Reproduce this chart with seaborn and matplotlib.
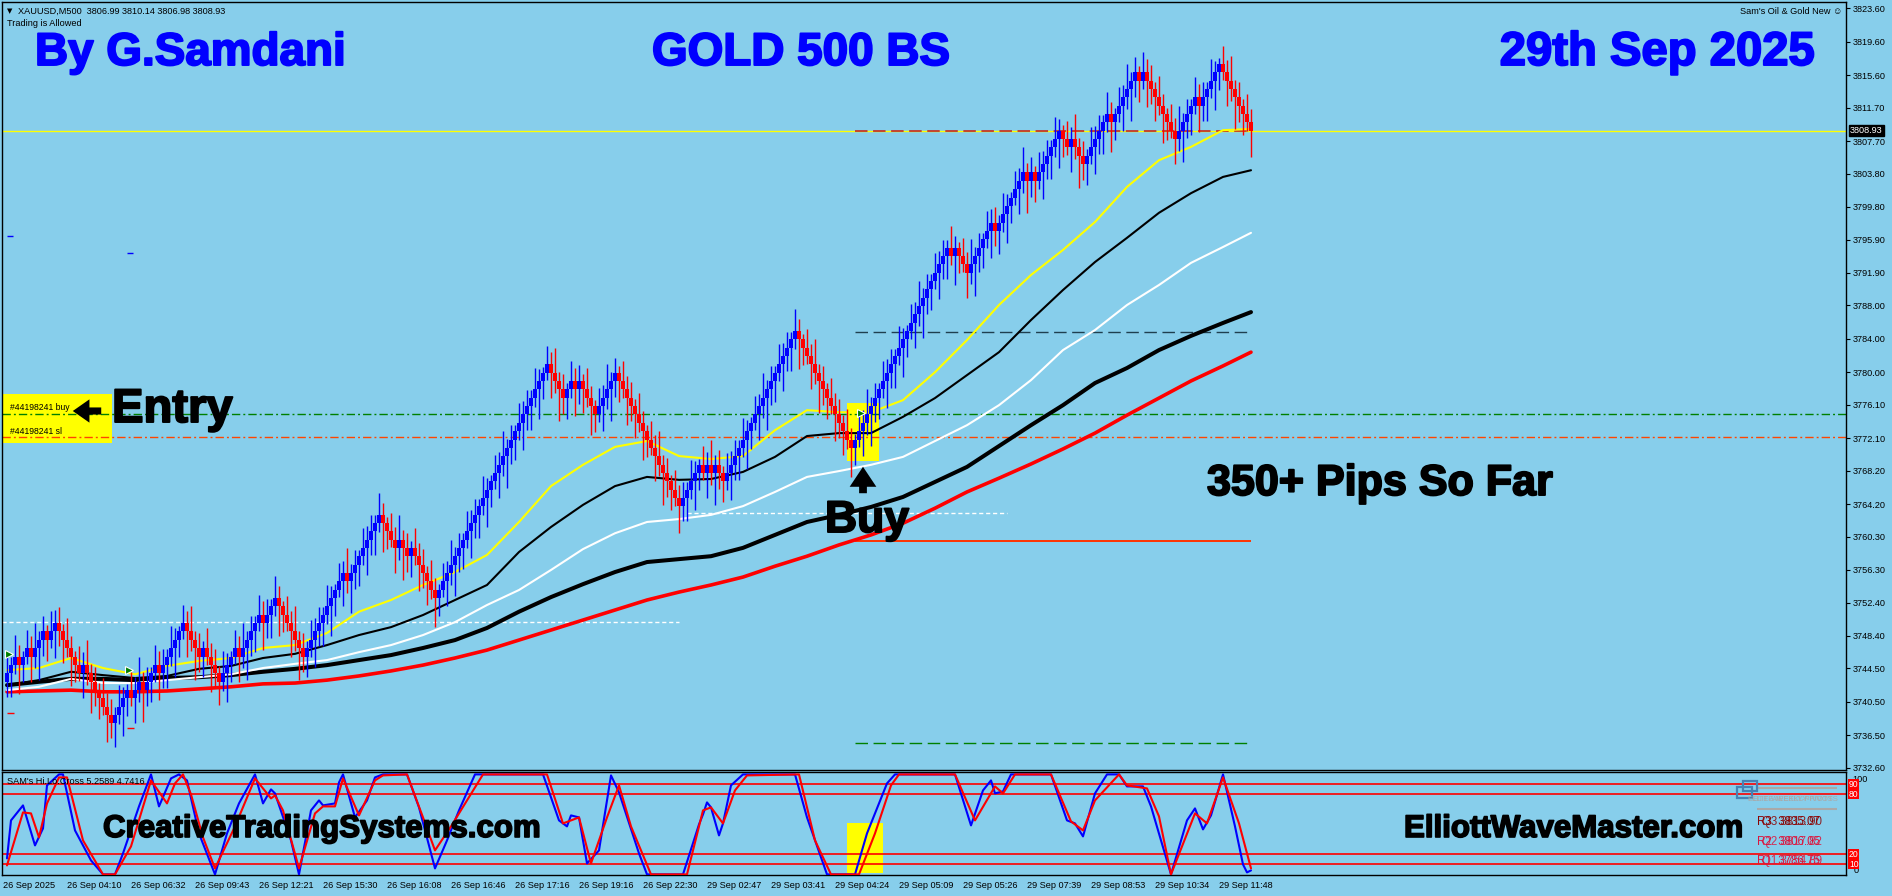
import numpy as np
import pandas as pd
import matplotlib
matplotlib.use("Agg")
import matplotlib.pyplot as plt
from matplotlib.patches import Rectangle, FancyArrowPatch
import matplotlib.patheffects as pe
import seaborn as sns

sns.set_style("white")
plt.rcParams["font.family"] = ["Liberation Sans", "DejaVu Sans"]
plt.rcParams["lines.scale_dashes"] = False
plt.rcParams["axes.unicode_minus"] = False
plt.rcParams["text.color"] = "black"
plt.rcParams["xtick.color"] = "black"
plt.rcParams["ytick.color"] = "black"

# ---------------- data ----------------
start_price = 3742.93
brick_size = 1.0
brick_runs = [3, -1, 2, -1, 3, -1, 2,
              -6, 1, -7,
              4, -1, 2, -1, 3, -1, 6,
              -4, 1, -4,
              4, -1, 5, -1, 3,
              -7,
              10, -1, 8,
              -4, 1, -2, 1, -6,
              28,
              -4, 2, -1, 1, -4, 5,
              -16,
              5, -1, 1, -1, 1, -2,
              18,
              -14,
              24,
              -1, 1, -3,
              6, -1, 7, -1, 1, -1, 6,
              -2, 1, -3,
              6, -1, 6, -1, 1,
              -8,
              5,
              -1,
              5,
              -8]
wick_high = [1.9, 0.9, 2.6, 1.4, 0.7, 2.2, 1.5, 3.0, 1.1, 1.8, 0.8, 2.4, 1.6]
wick_low = [1.8, 2.8, 1.1, 3.5, 2.1, 0.9, 3.0, 1.4, 3.8, 1.9, 2.5, 1.0, 3.2]

ma_bars = [0, 8, 16, 24, 32, 40, 48, 56, 64, 72, 80, 88, 96, 104, 112, 120, 128, 136, 144, 152,
           160, 168, 176, 184, 192, 200, 208, 216, 224, 232, 240, 248, 256, 264, 272, 280, 288, 296, 304, 311]
ma_yellow = [3744.3, 3744.55, 3745.75, 3744.55, 3743.8, 3744.8, 3745.4, 3745.75, 3746.95, 3747.3,
             3748.75, 3751.3, 3752.7, 3754.5, 3756.05, 3758.1, 3762.05, 3766.35, 3768.9, 3771.05,
             3771.75, 3769.95, 3769.6, 3769.95, 3773.05, 3775.45, 3775.2, 3775.2, 3776.65, 3780.0,
             3783.85, 3788.05, 3791.65, 3794.65, 3798.0, 3802.2, 3805.4, 3807.0, 3809.0, 3809.15]
ma_black_thin = [3742.5, 3743.1, 3744.1, 3743.7, 3743.35, 3743.6, 3744.45, 3744.8, 3745.75, 3746.25,
                 3747.3, 3748.5, 3749.45, 3750.9, 3752.7, 3754.5, 3758.45, 3761.45, 3764.1, 3766.35,
                 3767.45, 3767.1, 3767.2, 3768.05, 3769.85, 3772.35, 3772.7, 3772.7, 3774.65, 3776.9,
                 3779.65, 3782.4, 3786.25, 3789.85, 3793.2, 3796.1, 3799.1, 3801.45, 3803.4, 3804.2]
ma_white = [3741.9, 3742.3, 3743.25, 3742.75, 3742.75, 3743.1, 3743.45, 3743.8, 3744.55, 3745.05,
            3745.5, 3746.45, 3747.3, 3748.5, 3750.05, 3752.1, 3753.9, 3756.3, 3758.8, 3760.7,
            3762.05, 3762.4, 3762.9, 3763.95, 3765.65, 3767.45, 3768.15, 3768.9, 3769.85, 3771.75,
            3773.65, 3776.05, 3779.05, 3782.65, 3785.05, 3788.05, 3790.45, 3793.1, 3795.0, 3796.7]
ma_black_thick = [3742.5, 3742.9, 3743.25, 3743.25, 3743.1, 3743.35, 3743.45, 3743.7, 3744.1, 3744.45,
                  3744.9, 3745.5, 3746.1, 3746.95, 3747.9, 3749.35, 3751.3, 3753.05, 3754.6, 3756.05,
                  3757.25, 3757.6, 3757.95, 3758.95, 3760.5, 3762.05, 3762.9, 3763.85, 3765.05, 3766.85,
                  3768.65, 3771.15, 3773.65, 3776.05, 3778.7, 3780.5, 3782.65, 3784.35, 3785.9, 3787.2]
ma_red = [3741.7, 3741.8, 3741.9, 3741.7, 3741.7, 3741.8, 3742.05, 3742.3, 3742.65, 3742.75,
          3743.1, 3743.6, 3744.2, 3744.9, 3745.75, 3746.7, 3747.9, 3749.1, 3750.3, 3751.5,
          3752.7, 3753.65, 3754.5, 3755.45, 3756.75, 3757.95, 3759.3, 3760.5, 3761.9, 3763.7,
          3765.65, 3767.3, 3769.0, 3770.8, 3772.7, 3774.85, 3776.9, 3778.95, 3780.75, 3782.4]

osc_blue_bars = [0, 1, 4, 7, 9, 10, 13, 14, 17, 21, 24, 27, 29, 33, 36, 38, 41, 43, 45, 48,
                 52, 55, 58, 62, 64, 66, 67, 71, 73, 76, 78, 79, 82, 83, 84, 87, 90, 92, 94, 100,
                 103, 107, 110, 113, 117, 134, 138, 140, 141, 143, 145, 148, 151, 153, 158, 160, 169, 173, 174, 175,
                 176, 178, 179, 181, 184, 197, 200, 205, 212, 215, 220, 222, 237, 241, 244, 246, 247, 249, 251, 261,
                 265, 267, 269, 272, 275, 278, 280, 284, 286, 291, 295, 297, 299, 301, 304, 307, 309, 310, 311]
osc_blue = [16, 54, 69, 29, 46, 89, 100, 100, 44, 14, 0, 0, 21, 68, 100, 68, 96, 100, 94, 41,
            0, 41, 71, 100, 71, 85, 81, 34, 0, 64, 74, 69, 71, 92, 100, 57, 74, 97, 100, 100,
            67, 6, 34, 64, 100, 100, 54, 48, 59, 57, 11, 24, 99, 82, 21, 0, 0, 50, 60, 72,
            67, 39, 51, 89, 100, 100, 57, 0, 0, 41, 91, 100, 100, 49, 84, 94, 81, 83, 100, 100,
            54, 51, 38, 81, 100, 100, 88, 88, 68, 0, 54, 66, 45, 59, 100, 48, 10, 2, 4]
osc_red_bars = [0, 4, 6, 8, 10, 13, 15, 19, 24, 27, 31, 36, 40, 42, 44, 46, 49, 52, 57, 62,
                66, 67, 69, 73, 77, 79, 82, 84, 88, 92, 94, 100, 104, 107, 111, 119, 135, 139, 143, 146,
                150, 153, 156, 161, 170, 174, 176, 179, 182, 185, 198, 202, 206, 213, 217, 221, 223, 237, 242, 247,
                249, 252, 261, 266, 269, 272, 278, 280, 285, 288, 291, 297, 300, 304, 308, 311]
osc_red = [9, 62, 61, 37, 71, 97, 97, 34, 0, 0, 28, 94, 71, 91, 100, 80, 37, 6, 48, 96,
           76, 79, 64, 6, 61, 68, 68, 96, 59, 94, 99, 100, 57, 24, 48, 100, 100, 51, 57, 11,
           57, 89, 48, 0, 0, 64, 67, 51, 84, 99, 100, 34, 0, 0, 41, 89, 100, 100, 54, 88,
           81, 100, 100, 53, 44, 74, 100, 89, 86, 58, 0, 61, 51, 97, 51, 6]
osc_levels = [90, 80, 20, 10]

price_ticks = [3823.60, 3819.60, 3815.60, 3811.70, 3807.70, 3803.80, 3799.80, 3795.90, 3791.90, 3788.00,
               3784.00, 3780.00, 3776.10, 3772.10, 3768.20, 3764.20, 3760.30, 3756.30, 3752.40, 3748.40,
               3744.50, 3740.50, 3736.50, 3732.60]
time_labels = ["26 Sep 2025", "26 Sep 04:10", "26 Sep 06:32", "26 Sep 09:43", "26 Sep 12:21",
               "26 Sep 15:30", "26 Sep 16:08", "26 Sep 16:46", "26 Sep 17:16", "26 Sep 19:16",
               "26 Sep 22:30", "29 Sep 02:47", "29 Sep 03:41", "29 Sep 04:24", "29 Sep 05:09",
               "29 Sep 05:26", "29 Sep 07:39", "29 Sep 08:53", "29 Sep 10:34", "29 Sep 11:48"]
bars_per_label = 16

last_price = 3808.93
entry_price = 3775.00
stop_price = 3772.25
tp_price = 3808.90
upper_level = 3784.80
support_level = 3759.80
lower_level = 3735.60
white_level_left = 3750.10
white_level_right = 3763.10
level_start_bar = 212
white_left_end_bar = 168
white_right_span = (170, 250)

# ---------------- figure ----------------
BG = "#87CEEB"
W, H = 1892, 896
fig = plt.figure(figsize=(W / 100, H / 100), dpi=100, facecolor=BG)


def fx(px):
    return px / W


def fy(py):
    return 1 - py / H


ax = fig.add_axes([fx(2), fy(770), fx(1846) - fx(2), fy(2) - fy(770)], facecolor=BG)
ax2 = fig.add_axes([fx(2), fy(875), fx(1846) - fx(2), fy(772.3) - fy(875)], facecolor=BG)

# renko bars
steps = np.concatenate([np.full(abs(r), np.sign(r)) for r in brick_runs]) * brick_size
closes = start_price + np.cumsum(steps)
opens = closes - steps
n = len(closes)
bars = np.arange(n)
up = steps > 0
body_top = np.maximum(opens, closes)
body_bot = np.minimum(opens, closes)
highs = body_top + np.resize(np.array(wick_high), n)
lows = body_bot - np.resize(np.array(wick_low), n)
colors = np.where(up, "#0000FF", "#FF0000")

last_bar = n - 1
x_left, x_right = -1.25, 459.75

# horizontal levels
ax.axhline(last_price, color="#FFFF00", lw=1.0, zorder=1)
ax.axhline(entry_price, color="#008000", lw=1.0, ls=(0, (6, 2.2, 1.4, 2.2)), zorder=1)
ax.axhline(stop_price, color="#FF4500", lw=1.0, ls=(0, (6, 2.2, 1.4, 2.2)), zorder=1)
ax.hlines(tp_price, level_start_bar, last_bar, color="#C02828", lw=1.2, ls=(0, (9, 4)), zorder=2)
ax.hlines(upper_level, level_start_bar, last_bar, color="#1F3F4F", lw=1.0, ls=(0, (9, 4)), zorder=1)
ax.hlines(support_level, level_start_bar, last_bar, color="#FF3300", lw=1.4, zorder=1)
ax.hlines(lower_level, level_start_bar, last_bar, color="#008000", lw=1.0, ls=(0, (9, 4)), zorder=1)
ax.hlines(white_level_left, x_left, white_left_end_bar, color="white", lw=1.0, ls=(0, (3, 2)), zorder=1)
ax.hlines(white_level_right, white_right_span[0], white_right_span[1], color="white", lw=1.0,
          ls=(0, (3, 2)), zorder=1)

# moving averages
ma_df = pd.DataFrame({"bar": ma_bars, "yellow": ma_yellow, "black_thin": ma_black_thin,
                      "white": ma_white, "black_thick": ma_black_thick, "red": ma_red})
for col, c, lw in [("red", "#FF0000", 2.6), ("black_thick", "#000000", 2.9), ("white", "#FFFFFF", 1.5),
                   ("black_thin", "#000000", 1.5), ("yellow", "#FFFF00", 1.5)]:
    sns.lineplot(data=ma_df, x="bar", y=col, ax=ax, color=c, lw=lw, estimator=None, sort=False,
                 legend=False, zorder=3)

# bars on top
ax.vlines(bars, lows, highs, colors=colors, lw=1.0, zorder=5)
ax.bar(bars, body_top - body_bot, bottom=body_bot, width=0.95, color=colors, linewidth=0, zorder=6)

# small markers
ax.plot([0.5], [3746.2], marker=">", ms=6, color="#008000", mec="white", mew=0.8, zorder=7)
ax.plot([30.5], [3744.3], marker=">", ms=6, color="#008000", mec="white", mew=0.8, zorder=7)
ax.plot([213.5], [3775.1], marker=">", ms=6, color="#008000", mec="white", mew=0.8, zorder=7)
ax.hlines([3796.3, 3794.3], [0.0, 30.0], [1.5, 31.5], color="#0000FF", lw=1, zorder=2)
ax.hlines([3739.2, 3737.4], [0.0, 30.0], [1.8, 31.8], color="#FF0000", lw=1, zorder=2)

ax.set_xlim(x_left, x_right)
ax.set_ylim(3732.33, 3824.36)
ax.set_xlabel("")
ax.set_ylabel("")
ax.set_xticks([])
ax.yaxis.tick_right()
ax.set_yticks(price_ticks)
ax.set_yticklabels([f"{v:.2f}" for v in price_ticks])
ax.tick_params(axis="y", direction="out", length=3, width=0.8, pad=1.5, labelsize=6.6, colors="black")
for s in ax.spines.values():
    s.set_color("black")
    s.set_linewidth(1.0)

# annotation boxes (behind bars)
ax.add_patch(Rectangle((x_left + 0.1, 3771.5), 27.3, 5.9, facecolor="#FFFF00", edgecolor="none", zorder=0.5))
ax.add_patch(Rectangle((210.0, 3769.3), 8.0, 7.0, facecolor="#FFFF00", edgecolor="none", zorder=0.5))

# ---------------- oscillator ----------------
ax2.add_patch(Rectangle((210.0, 1.4), 9.0, 50.0, facecolor="#FFFF00", edgecolor="none", zorder=0.5))
for lv in osc_levels:
    ax2.axhline(lv, color="#FF0000", lw=1.2, zorder=1)
sns.lineplot(x=osc_blue_bars, y=osc_blue, ax=ax2, color="#0000FF", lw=1.5, estimator=None, sort=False,
             legend=False, zorder=3)
sns.lineplot(x=osc_red_bars, y=osc_red, ax=ax2, color="#FF0000", lw=1.5, estimator=None, sort=False,
             legend=False, zorder=4)
ax2.set_xlim(x_left, x_right)
ax2.set_ylim(-0.6, 102.1)
ax2.set_xlabel("")
ax2.set_ylabel("")
ax2.set_yticks([])
tick_pos = [bars_per_label * k - 1 for k in range(len(time_labels))]
ax2.set_xticks(tick_pos)
ax2.set_xticklabels(time_labels, ha="left")
ax2.tick_params(axis="x", direction="out", length=3, width=0.8, pad=1.5, labelsize=6.6, colors="black")
for s in ax2.spines.values():
    s.set_color("black")
    s.set_linewidth(1.0)
ax2.hlines([86.4, 65.4], 437.5, 457.5, color="#A9A9A9", lw=1.5, zorder=2)

# ---------------- texts ----------------
small = 6.6


def heavy(c, w=1.4):
    return [pe.withStroke(linewidth=w, foreground=c)]


fig.text(fx(7), fy(11), "▼", fontsize=5, family="DejaVu Sans", va="center", color="black")
fig.text(fx(18), fy(11), "XAUUSD,M500  3806.99 3810.14 3806.98 3808.93", fontsize=small, va="center")
fig.text(fx(7), fy(24), "Trading is Allowed", fontsize=small, va="center")
fig.text(fx(1842), fy(12), "Sam's Oil & Gold New ☺", fontsize=small, va="center", ha="right",
         family=["Liberation Sans", "DejaVu Sans"])

blue = "#0000FF"
fig.text(fx(35), fy(65), "By G.Samdani", fontsize=33, weight="bold", color=blue, va="baseline",
         path_effects=heavy(blue))
fig.text(fx(652), fy(65), "GOLD 500 BS", fontsize=33, weight="bold", color=blue, va="baseline",
         path_effects=heavy(blue))
fig.text(fx(1815), fy(65), "29th Sep 2025", fontsize=34, weight="bold", color=blue, va="baseline",
         ha="right", path_effects=heavy(blue))

fig.text(fx(10), fy(408), "#44198241 buy", fontsize=6.2, va="center")
fig.text(fx(10), fy(431), "#44198241 sl", fontsize=6.2, va="center")
fig.patches.append(FancyArrowPatch((fx(104), fy(411)), (fx(70), fy(411)), transform=fig.transFigure,
                                   arrowstyle="simple,head_width=1.05,head_length=0.75,tail_width=0.32",
                                   mutation_scale=16, color="black", lw=0))
fig.text(fx(112), fy(422), "Entry", fontsize=34, weight="bold", va="baseline", path_effects=heavy("black"))

fig.patches.append(FancyArrowPatch((fx(863), fy(496)), (fx(863), fy(464)), transform=fig.transFigure,
                                   arrowstyle="simple,head_width=1.2,head_length=0.9,tail_width=0.35",
                                   mutation_scale=16, color="black", lw=0))
fig.text(fx(825), fy(532), "Buy", fontsize=32, weight="bold", va="baseline", path_effects=heavy("black"))
fig.text(fx(1207), fy(495), "350+ Pips So Far", fontsize=31, weight="bold", va="baseline",
         path_effects=heavy("black"))

fig.text(fx(1850), fy(130.7), "3808.93", fontsize=small, color="white", va="center",
         bbox=dict(boxstyle="square,pad=0.12", facecolor="black", edgecolor="black"))

fig.text(fx(7), fy(781.5), "SAM's Hi.Lo.Cross 5.2589 4.7416", fontsize=small, va="center")
fig.text(fx(103), fy(837), "CreativeTradingSystems.com", fontsize=22.5, weight="bold", va="baseline",
         path_effects=heavy("black", 1.2))
fig.text(fx(1404), fy(837), "ElliottWaveMaster.com", fontsize=22.5, weight="bold", va="baseline",
         path_effects=heavy("black", 1.2))

fig.text(fx(1852), fy(779), "100", fontsize=small, va="center")
fig.text(fx(1854), fy(870), "0", fontsize=small, va="center")
for lv, py in zip(osc_levels, [784.5, 794, 854.3, 864]):
    fig.text(fx(1849), fy(py), str(lv), fontsize=6.2, va="center", color="white",
             bbox=dict(boxstyle="square,pad=0.08", facecolor="#FF0000", edgecolor="none"))

# pivot panel
fig.patches.append(Rectangle((fx(1743), fy(791)), fx(14), 10 / H, transform=fig.transFigure,
                             facecolor="none", edgecolor="#4682B4", lw=1.6))
fig.patches.append(Rectangle((fx(1737), fy(798)), fx(15), 11 / H, transform=fig.transFigure,
                             facecolor="none", edgecolor="#4682B4", lw=1.6))
fig.text(fx(1747), fy(799), "ELITE-WEEKLY-PIVOTS", fontsize=5.6, color="#A9A9A9", va="center")
fig.text(fx(1752), fy(799), "ELITE-WEEKLY-PIVOTS", fontsize=5.6, color="#A9A9A9", va="center")
for txt_a, txt_b, col, py in [("R3  3835.07", "Q3 3813.90", "#8B0000", 822),
                              ("R2  3806.05", "Q2 3817.82", "#DC143C", 842),
                              ("R1  3786.75", "Q1 3754.89", "#DC143C", 861)]:
    fig.text(fx(1757), fy(py), txt_a, fontsize=8.3, color=col, va="center")
    fig.text(fx(1762), fy(py), txt_b, fontsize=8.3, color=col, va="center", alpha=0.85)

fig.savefig("out.png", dpi=100, facecolor=BG)
